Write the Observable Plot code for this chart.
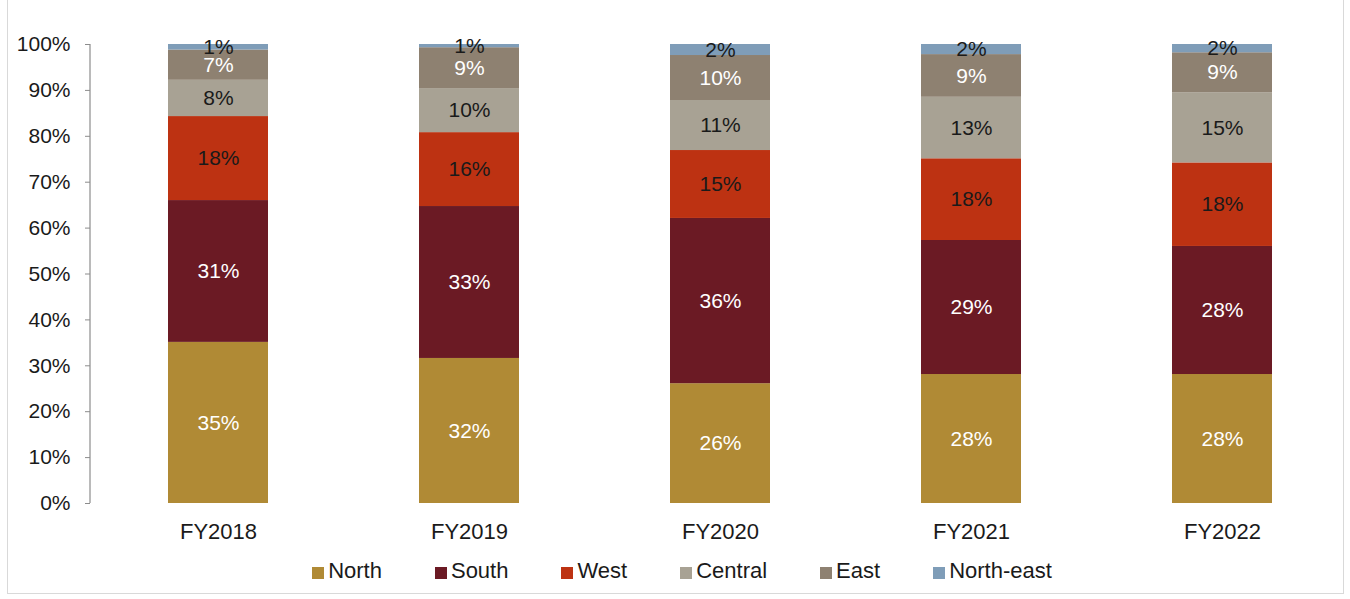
<!DOCTYPE html>
<html>
<head>
<meta charset="utf-8">
<script src="https://cdn.jsdelivr.net/npm/d3@7"></script>
<script src="https://cdn.jsdelivr.net/npm/@observablehq/plot@0.6"></script>
<style>
  html, body { margin: 0; padding: 0; background: #fff; }
  body { width: 1350px; height: 599px; position: relative; overflow: hidden; font-family: "Liberation Sans", Arial, sans-serif; }
  #frame { position: absolute; left: 7px; top: -2px; width: 1337px; height: 596px; border-left: 1px solid #d9d9d9; border-right: 1px solid #d9d9d9; border-bottom: 1px solid #d9d9d9; box-sizing: border-box; }
  #chart { position: absolute; left: 0; top: 0; }
  #legend { position: absolute; left: 0; top: 558px; width: 1350px; display: flex; justify-content: center; gap: 53px; padding-left: 14px; box-sizing: border-box; font-size: 22px; color: #1a1a1a; }
  .item { display: flex; align-items: center; }
  .sw { width: 12px; height: 12px; margin-right: 4px; margin-top: 3px; }
</style>
</head>
<body>
<div id="frame"></div>
<div id="chart"></div>
<div id="legend"></div>
<script>
const years = ["FY2018", "FY2019", "FY2020", "FY2021", "FY2022"];
const regions = ["North", "South", "West", "Central", "East", "North-east"];
const north   = [35.1, 31.6, 26.1, 28.1, 28.1];
const south   = [30.9, 33.1, 36.0, 29.2, 27.9];
const west    = [18.3, 16.1, 14.8, 17.8, 18.2];
const central = [7.9, 9.6, 10.9, 13.4, 15.3];
const east    = [6.6, 8.9, 9.8, 9.3, 8.7];
const northEast = [1.2, 0.7, 2.4, 2.2, 1.8];
const yTicks = [0, 10, 20, 30, 40, 50, 60, 70, 80, 90, 100];
const barColors = ["#B08A35", "#6B1A24", "#BD3212", "#A8A294", "#8E8171", "#7F9DB8"];
const labelColors = ["#ffffff", "#ffffff", "#1a1a1a", "#1a1a1a", "#ffffff", "#1a1a1a"];

const series = [north, south, west, central, east, northEast];
const data = [];
years.forEach((yr, i) => {
  regions.forEach((r, j) => {
    data.push({year: yr, region: r, value: series[j][i], fill: barColors[j], label: labelColors[j]});
  });
});

const axisLine = (index, scales, values, dimensions) => {
  const svg = d3.create("svg:g");
  svg.append("line")
    .attr("x1", dimensions.marginLeft).attr("x2", dimensions.marginLeft)
    .attr("y1", scales.y(0)).attr("y2", scales.y(100))
    .attr("stroke", "#8c8c8c").attr("stroke-width", 1.2);
  return svg.node();
};

const chart = Plot.plot({
  width: 1350,
  height: 550,
  marginLeft: 90,
  marginRight: 2.5,
  marginTop: 44,
  marginBottom: 47,
  style: {fontFamily: "'Liberation Sans', Arial, sans-serif", background: "transparent"},
  x: {domain: years, paddingInner: 0.6, paddingOuter: 0.3, insetLeft: 2.5, label: null},
  y: {domain: [0, 100], label: null},
  color: {type: "identity"},
  marks: [
    Plot.barY(data, Plot.stackY({x: "year", y: "value", z: "region", order: regions, fill: "fill"})),
    Plot.text(data, Plot.stackY({x: "year", y: "value", z: "region", order: regions,
      text: d => Math.round(d.value) + "%", fill: "label", fontSize: 21})),
    Plot.axisY({ticks: yTicks, tickSize: 5, tickPadding: 15, tickFormat: d => d + "%",
      fontSize: 21, color: "#1a1a1a", stroke: "#8c8c8c", label: null}),
    axisLine,
    Plot.axisX({tickSize: 0, tickPadding: 20, fontSize: 22, color: "#1a1a1a", label: null})
  ]
});
document.getElementById("chart").appendChild(chart);

const legend = document.getElementById("legend");
regions.forEach((r, j) => {
  const it = document.createElement("div");
  it.className = "item";
  const sw = document.createElement("span");
  sw.className = "sw";
  sw.style.background = barColors[j];
  const t = document.createElement("span");
  t.textContent = r;
  it.appendChild(sw); it.appendChild(t);
  legend.appendChild(it);
});
</script>
</body>
</html>
